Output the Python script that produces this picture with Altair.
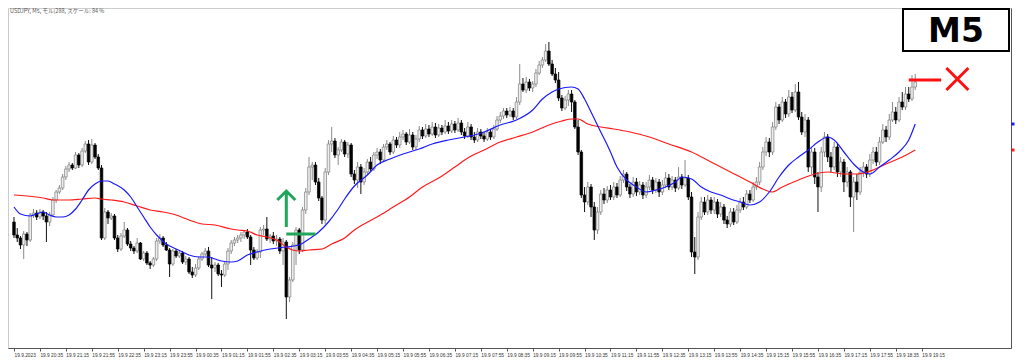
import json
import altair as alt
import pandas as pd

# ---------------- data (price levels in chart points) ----------------
title_text = "USDJPY, M5, モル(288, スケール: 84 %"
timeframe = "M5"

time_labels = ["19.9.2023", "19.9 20:35", "19.9 21:15", "19.9 21:55", "19.9 22:35", "19.9 23:15",
               "19.9 23:55", "19.9 00:35", "19.9 01:15", "19.9 01:55", "19.9 02:35", "19.9 03:15",
               "19.9 03:55", "19.9 04:35", "19.9 05:15", "19.9 05:55", "19.9 06:35", "19.9 07:15",
               "19.9 07:55", "19.9 08:35", "19.9 09:15", "19.9 09:55", "19.9 10:35", "19.9 11:15",
               "19.9 11:55", "19.9 12:35", "19.9 13:15", "19.9 13:55", "19.9 14:35", "19.9 15:15",
               "19.9 15:55", "19.9 16:35", "19.9 17:15", "19.9 17:55", "19.9 18:35", "19.9 19:15"]
bars_per_label = 8

open_first = 130
close = [
    117, 114, 107, 118, 112, 137, 139, 135, 140, 136,
    130, 137, 152, 160, 164, 175, 183, 187, 184, 197,
    187, 201, 208, 190, 207, 195, 184, 114, 140, 134,
    136, 114, 103, 116, 122, 108, 104, 101, 109, 93,
    99, 89, 87, 93, 111, 114, 107, 102, 88, 101,
    96, 99, 90, 93, 80, 77, 84, 93, 98, 101,
    87, 84, 87, 78, 77, 88, 101, 109, 112, 114,
    117, 120, 115, 102, 94, 100, 122, 123, 113, 116,
    111, 113, 101, 110, 55, 72, 107, 122, 102, 142,
    160, 185, 187, 170, 154, 132, 180, 208, 211, 197,
    202, 210, 198, 207, 178, 172, 185, 170, 180, 190,
    183, 197, 200, 192, 205, 208, 200, 212, 207, 215,
    218, 210, 217, 205, 213, 222, 216, 223, 218, 225,
    217, 224, 220, 226, 221, 228, 222, 229, 220, 216,
    225, 215, 212, 220, 216, 213, 220, 215, 223, 232,
    236, 241, 237, 241, 235, 250, 268, 262, 270, 264,
    268, 279, 287, 292, 301, 288, 278, 272, 254, 244,
    252, 258, 250, 225, 200, 157, 150, 165, 145, 122,
    140, 158, 152, 162, 155, 165, 157, 172, 178, 165,
    158, 170, 160, 167, 157, 165, 172, 162, 170, 160,
    167, 174, 165, 172, 164, 175, 167, 174, 155, 100,
    95, 135, 150, 140, 152, 142, 150, 138, 145, 132,
    128, 140, 130, 142, 150, 145, 158, 152, 165, 170,
    185, 200, 210, 200, 225, 245, 232, 250, 238, 255,
    242, 260, 235, 220, 232, 185, 200, 175, 165, 200,
    215, 195, 185, 205, 180, 190, 170, 180, 155, 170,
    160, 180, 185, 178, 192, 200, 190, 210, 222, 215,
    232, 240, 232, 250, 245, 258, 253, 265, 270,
]
high = [
    135, 124, 116, 121, 120, 139, 143, 142, 143, 142,
    140, 140, 155, 162, 167, 178, 186, 190, 189, 200,
    199, 204, 211, 212, 213, 209, 198, 187, 144, 142,
    139, 138, 117, 119, 130, 124, 111, 106, 114, 110,
    101, 101, 91, 95, 114, 118, 116, 110, 104, 103,
    103, 101, 101, 96, 95, 85, 88, 96, 100, 104,
    105, 95, 90, 89, 82, 91, 104, 112, 115, 117,
    120, 122, 123, 117, 105, 103, 125, 127, 135, 118,
    120, 117, 115, 114, 112, 75, 110, 125, 124, 145,
    164, 195, 190, 190, 174, 156, 184, 212, 225, 214,
    205, 213, 212, 210, 209, 182, 190, 188, 184, 193,
    195, 200, 204, 203, 208, 212, 210, 216, 215, 220,
    222, 220, 223, 220, 217, 226, 225, 228, 227, 230,
    229, 228, 227, 232, 230, 232, 231, 234, 232, 224,
    230, 228, 220, 224, 223, 220, 224, 223, 227, 236,
    240, 244, 244, 245, 244, 255, 288, 274, 275, 273,
    271, 283, 291, 295, 308, 310, 292, 284, 280, 257,
    256, 262, 262, 252, 232, 202, 165, 170, 168, 150,
    145, 162, 164, 166, 167, 170, 169, 176, 182, 180,
    168, 175, 174, 171, 170, 170, 177, 175, 174, 173,
    172, 180, 178, 176, 175, 185, 178, 192, 177, 160,
    115, 140, 155, 155, 157, 155, 155, 153, 150, 148,
    136, 144, 144, 147, 154, 155, 162, 162, 170, 175,
    190, 205, 215, 214, 230, 250, 248, 255, 253, 262,
    260, 268, 270, 240, 238, 235, 205, 204, 180, 205,
    220, 218, 200, 210, 208, 195, 193, 185, 182, 175,
    178, 185, 190, 188, 198, 205, 205, 215, 228, 226,
    238, 250, 245, 255, 260, 265, 265, 277, 278,
]
low = [
    114, 110, 103, 93, 106, 110, 134, 132, 133, 132,
    110, 126, 135, 149, 158, 162, 172, 180, 182, 183,
    184, 185, 199, 187, 188, 193, 182, 112, 112, 128,
    132, 112, 100, 101, 114, 106, 101, 98, 99, 92,
    91, 87, 83, 85, 91, 108, 105, 101, 75, 86,
    94, 94, 88, 87, 78, 74, 75, 82, 91, 96,
    85, 53, 80, 76, 65, 75, 82, 98, 106, 109,
    110, 113, 113, 87, 92, 92, 94, 117, 111, 109,
    108, 106, 98, 87, 33, 50, 70, 87, 98, 100,
    138, 157, 172, 167, 151, 128, 128, 177, 200, 194,
    187, 200, 195, 194, 175, 168, 164, 158, 167, 177,
    180, 181, 193, 188, 190, 202, 197, 198, 204, 204,
    212, 207, 208, 202, 202, 210, 213, 214, 215, 216,
    214, 215, 217, 218, 218, 219, 219, 220, 217, 213,
    214, 212, 209, 210, 213, 210, 211, 212, 213, 221,
    229, 233, 234, 235, 232, 233, 247, 260, 259, 261,
    260, 265, 277, 284, 290, 286, 276, 269, 251, 241,
    242, 246, 240, 223, 197, 154, 140, 147, 135, 112,
    118, 137, 148, 149, 152, 152, 154, 155, 169, 161,
    154, 155, 156, 157, 153, 154, 162, 158, 159, 155,
    157, 164, 162, 162, 160, 162, 163, 165, 152, 95,
    78, 92, 132, 137, 137, 138, 138, 134, 135, 128,
    124, 125, 127, 128, 139, 142, 143, 149, 150, 162,
    167, 182, 196, 195, 197, 222, 228, 230, 234, 235,
    239, 240, 232, 217, 215, 180, 178, 168, 140, 160,
    195, 190, 180, 182, 175, 175, 160, 165, 145, 120,
    152, 157, 175, 174, 175, 188, 186, 187, 208, 210,
    212, 230, 228, 230, 242, 242, 250, 251, 262,
]

# fast moving average (blue) and slow moving average (red), read at bar indices
blue_idx = [0, 2, 5, 7, 9, 11, 13, 15, 17, 19, 21, 23, 25, 27, 29, 31, 34, 36, 38, 40,
            42, 44, 47, 50, 52, 54, 57, 60, 62, 64, 67, 69, 72, 75, 79, 84, 88, 91, 94, 97,
            100, 102, 105, 109, 112, 116, 120, 125, 129, 134, 139, 142, 145, 150, 155, 160,
            163, 166, 168, 172, 174, 176, 178, 181, 183, 184, 186, 189, 192, 195, 198, 201,
            204, 206, 209, 212, 215, 218, 221, 224, 227, 230, 233, 236, 239, 242, 245, 248,
            251, 253, 256, 259, 262, 264, 267, 270, 273, 276, 278]
blue_val = [145, 138, 136, 138, 140, 137, 135, 135, 137, 143, 152, 162, 168, 171, 171, 168,
            162, 155, 145, 135, 125, 117, 108, 103, 100, 97, 95, 95, 93, 91, 90, 91, 97, 100,
            103, 105, 107, 113, 120, 130, 143, 153, 166, 177, 187, 193, 198, 203, 208, 212,
            215, 217, 220, 227, 232, 242, 253, 260, 263, 265, 263, 253, 240, 220, 207, 200,
            185, 172, 165, 160, 162, 165, 170, 175, 173, 165, 160, 157, 153, 150, 147, 150,
            160, 175, 187, 195, 202, 210, 215, 212, 200, 188, 180, 178, 185, 192, 200, 212, 228]
red_idx = [0, 4, 9, 12, 17, 21, 25, 27, 30, 34, 38, 42, 46, 50, 54, 58, 62, 67, 69, 72,
           75, 78, 81, 84, 86, 88, 91, 95, 98, 102, 105, 108, 113, 117, 122, 126, 131, 136,
           140, 145, 150, 155, 160, 165, 169, 172, 174, 177, 181, 185, 190, 196, 202, 209,
           215, 221, 227, 231, 234, 237, 242, 247, 251, 256, 260, 265, 269, 274, 278]
red_val = [157, 156, 154, 152, 152, 153, 154, 153, 152, 150, 146, 142, 140, 137, 132, 128,
           127, 123, 122, 121, 117, 115, 112, 105, 102, 101, 102, 103, 108, 114, 122, 128,
           137, 145, 155, 165, 174, 185, 194, 202, 210, 215, 220, 227, 231, 233, 233, 228,
           225, 223, 220, 215, 208, 200, 190, 180, 170, 163, 160, 165, 172, 178, 180, 178,
           178, 182, 188, 195, 202]

# annotations (bar index / price level)
entry_bar, entry_end_bar, entry_level, arrow_level = 84, 93, 118, 143
exit_bar, exit_end_bar, exit_level, cross_bar, cross_level = 276, 286, 272, 291, 273

# ---------------- build tables ----------------
n = len(close)
assert len(high) == n and len(low) == n, (len(close), len(high), len(low))
assert len(blue_idx) == len(blue_val) and len(red_idx) == len(red_val)
opens = [open_first] + close[:-1]
df = pd.DataFrame({"i": list(range(n)), "open": opens, "close": close, "high": high, "low": low})
df["up"] = df["close"] >= df["open"]
df["top"] = df[["open", "close"]].max(axis=1)
df["bot"] = df[["open", "close"]].min(axis=1)
df.loc[df["top"] == df["bot"], "top"] = df["top"] + 0.6
df["high"] = df[["high", "top"]].max(axis=1)
df["low"] = df[["low", "bot"]].min(axis=1)

blue_df = pd.DataFrame({"i": blue_idx, "v": blue_val})
red_df = pd.DataFrame({"i": red_idx, "v": red_val})

W, H = 1003, 340
label_expr = json.dumps(time_labels) + "[round(datum.value / %d)]" % bars_per_label
tick_vals = [k * bars_per_label for k in range(len(time_labels))]

x_axis = alt.Axis(values=tick_vals, labelExpr=label_expr, labelAlign="left", labelBaseline="top",
                  labelPadding=1, labelFontSize=4.8, labelFont="Liberation Sans", labelColor="#333333",
                  tickSize=3, tickColor="#555555", domainColor="#555555", labelOverlap=False,
                  labelFlush=False, labelBound=False, grid=False, title=None)
x_scale = alt.Scale(domain=[-0.305, 306.0], nice=False, zero=False)
y_axis = alt.Axis(orient="right", labels=False, ticks=False, grid=False, domainColor="#555555", title=None)
y_scale = alt.Scale(domain=[4, 344], nice=False, zero=False)


def X(field="i"):
    return alt.X(f"{field}:Q", scale=x_scale, axis=x_axis, title=None)


def Y(field):
    return alt.Y(f"{field}:Q", scale=y_scale, axis=y_axis, title=None)


wicks = alt.Chart(df).mark_rule(strokeWidth=1).encode(
    x=X(), y=Y("low"), y2="high",
    color=alt.condition(alt.datum.up, alt.value("#8a8a8a"), alt.value("#111111")),
)
bodies = alt.Chart(df).mark_bar(size=2.6, strokeWidth=0.7).encode(
    x=X(), y=Y("top"), y2="bot",
    fill=alt.condition(alt.datum.up, alt.value("#eeeeee"), alt.value("#000000")),
    stroke=alt.condition(alt.datum.up, alt.value("#7c7c7c"), alt.value("#000000")),
)
red_ma = alt.Chart(red_df).mark_line(color="#ff1a1a", strokeWidth=1.2, interpolate="monotone").encode(
    x=X(), y=Y("v"))
blue_ma = alt.Chart(blue_df).mark_line(color="#1a1aff", strokeWidth=1.2, interpolate="monotone").encode(
    x=X(), y=Y("v"))

green = "#20a65a"
red = "#ff1010"
entry_df = pd.DataFrame({"i": [entry_bar], "i2": [entry_end_bar], "v": [entry_level], "va": [arrow_level]})
entry_line = alt.Chart(entry_df).mark_rule(color=green, strokeWidth=3).encode(x=X(), x2="i2", y=Y("v"))
arrow = alt.Chart(entry_df).mark_point(
    shape="M0,1L0,-1M-0.5,-0.5L0,-1L0.5,-0.5", size=1296, filled=False, strokeWidth=3,
    color=green, opacity=1).encode(x=X(), y=Y("va"))

exit_df = pd.DataFrame({"i": [exit_bar], "i2": [exit_end_bar], "v": [exit_level],
                        "ic": [cross_bar], "vc": [cross_level]})
exit_line = alt.Chart(exit_df).mark_rule(color=red, strokeWidth=3).encode(x=X(), x2="i2", y=Y("v"))
cross = alt.Chart(exit_df).mark_point(
    shape="M-1,-1L1,1M-1,1L1,-1", size=484, filled=False, strokeWidth=3, color=red, opacity=1
).encode(x=X("ic"), y=Y("vc"))

tf_df = pd.DataFrame({"t": [timeframe]})
box = alt.Chart(tf_df).mark_rect(fill="white", stroke="black", strokeWidth=2).encode(
    x=alt.value(895), x2=alt.value(1001), y=alt.value(1), y2=alt.value(43))
tf_text = alt.Chart(tf_df).mark_text(fontSize=33, fontWeight="bold", font="DejaVu Sans",
                                     align="center", baseline="alphabetic", color="black").encode(
    x=alt.value(948), y=alt.value(34), text="t:N")

title_df = pd.DataFrame({"t": [title_text]})
title = alt.Chart(title_df).mark_text(fontSize=5.5, font="Noto Sans CJK JP", align="left",
                                      baseline="top", color="#555555").encode(
    x=alt.value(2), y=alt.value(1), text="t:N")

end_df = pd.DataFrame({"v": [blue_val[-1], red_val[-1]], "c": ["#1a1aff", "#ff1a1a"]})
end_marks = alt.Chart(end_df).mark_square(size=9, opacity=1).encode(
    x=alt.value(W + 2), y=Y("v"), color=alt.Color("c:N", scale=None))

chart = alt.layer(
    wicks, bodies, red_ma, blue_ma, entry_line, arrow, exit_line, cross, box, tf_text, title, end_marks
).properties(width=W, height=H, padding=0, background="white").configure_view(stroke="#cccccc")

chart.save("out.html", embed_options={"renderer": "svg", "actions": False})
